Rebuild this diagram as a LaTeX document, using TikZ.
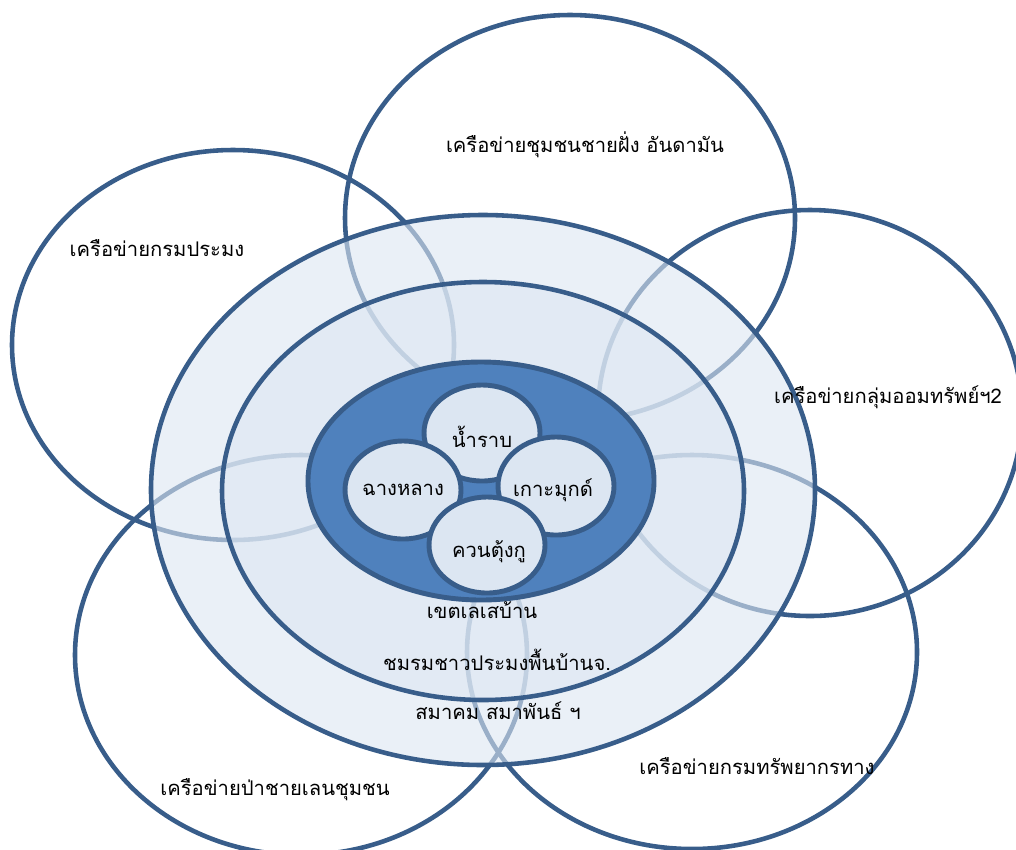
\documentclass[tikz,border=0pt]{standalone}
\usepackage{fontspec}
\newfontfamily\thaifont[Script=Thai]{Loma}
\definecolor{netLine}{HTML}{385D8A}
\definecolor{netDark}{HTML}{4F81BD}
\definecolor{netPale}{HTML}{DCE6F2}

\begin{document}
\begin{tikzpicture}[x=0.02cm, y=-0.02cm,
      net/.style={draw=netLine, line width=2.6pt},
      ring/.style={draw=netLine, line width=2.6pt, fill=netPale, fill opacity=0.6},
      core/.style={draw=netLine, line width=2.8pt, fill=netDark},
      village/.style={draw=netLine, line width=2.8pt, fill=netPale},
      lbl/.style={font=\thaifont\fontsize{11.5}{13}\selectfont, inner sep=1pt}]
    \useasboundingbox (0,0) rectangle (1016,849);
    % outer networks
    \draw[net] (570,218) ellipse [x radius=225, y radius=203];
    \draw[net] (233,345) ellipse [x radius=221, y radius=195];
    \draw[net] (810,413) ellipse [x radius=212, y radius=203];
    \draw[net] (301,655) ellipse [x radius=226, y radius=200];
    \draw[net] (692,652) ellipse [x radius=225, y radius=197];
    % rings
    \draw[ring] (483,490) ellipse [x radius=332, y radius=275];
    \draw[ring] (483,491) ellipse [x radius=261, y radius=209];
    \draw[core] (481,481) ellipse [x radius=173, y radius=119];
    % villages
    \draw[village] (482,433) ellipse [x radius=58, y radius=48];
    \draw[village] (403,490) ellipse [x radius=58, y radius=49];
    \draw[village] (556,486) ellipse [x radius=58, y radius=49];
    \draw[village] (487,545) ellipse [x radius=58, y radius=48];
    % labels
    \node[lbl] (andaman) at (585,145) {เครือข่ายชุมชนชายฝั่ง อันดามัน};
    \node[lbl] (fishery) at (157,248) {เครือข่ายกรมประมง};
    \node[lbl] (savings) at (888,397) {เครือข่ายกลุ่มออมทรัพย์ฯ2};
    \node[lbl] (mangrove) at (275,790) {เครือข่ายป่าชายเลนชุมชน};
    \node[lbl] (marine) at (757,766) {เครือข่ายกรมทรัพยากรทาง};
    \node[lbl] (zone) at (482,610) {เขตเลเสบ้าน};
    \node[lbl] (club) at (497,660) {ชมรมชาวประมงพื้นบ้านจ.};
    \node[lbl] (assoc) at (498,711) {สมาคม สมาพันธ์ ฯ};
    \node[lbl] (namrab) at (482,437) {น้ำราบ};
    \node[lbl] (changlang) at (403,490) {ฉางหลาง};
    \node[lbl] (kohmuk) at (553,490) {เกาะมุกด์};
    \node[lbl] (khuan) at (489,552) {ควนตุ้งกู};
  \end{tikzpicture}
\end{document}
